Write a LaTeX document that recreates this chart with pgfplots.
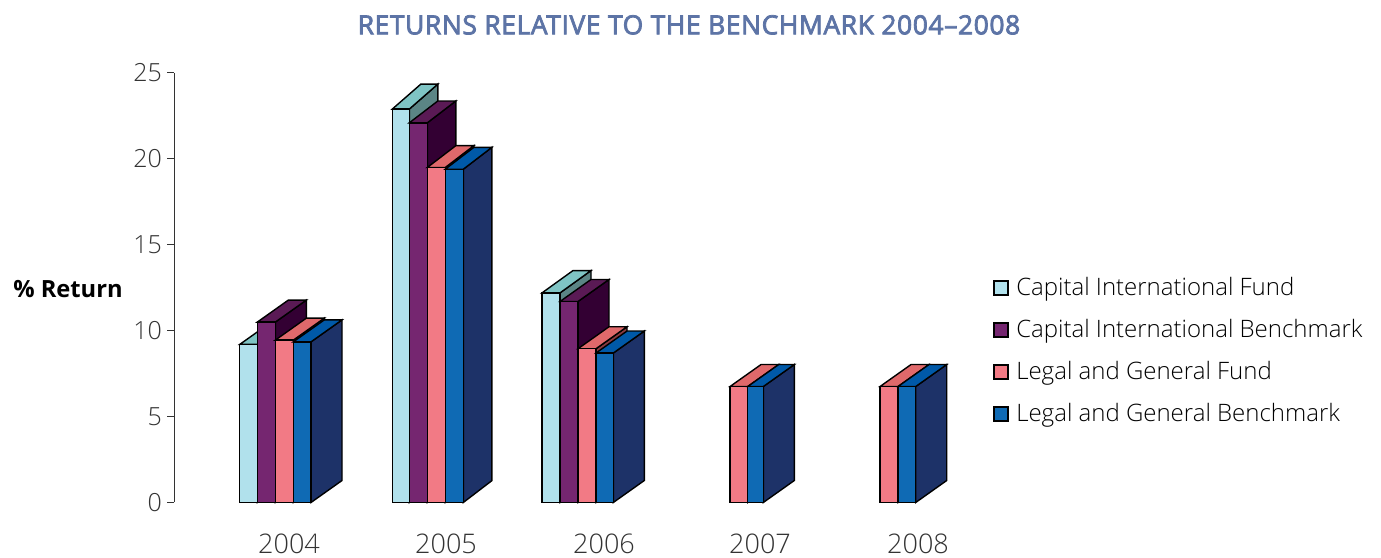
\documentclass[border=0pt]{standalone}
\usepackage{fontspec}
\setmainfont{Open Sans Light}[BoldFont={Open Sans Bold}]
\newfontfamily\titlefont{Open Sans}[FakeBold=3,LetterSpace=2.3]
\usepackage{pgfplots}
\pgfplotsset{compat=1.18}

% fronts, tops and sides of the four series
\definecolor{cifront}{HTML}{B1E1EC}
\definecolor{citop}{HTML}{7FC4C4}
\definecolor{ciside}{HTML}{5B8585}
\definecolor{cbfront}{HTML}{752670}
\definecolor{cbtop}{HTML}{5A1A55}
\definecolor{cbside}{HTML}{330033}
\definecolor{lgfront}{HTML}{F27A85}
\definecolor{lgtop}{HTML}{E0696B}
\definecolor{lgside}{HTML}{8A3A40}
\definecolor{lbfront}{HTML}{0F6AB4}
\definecolor{lbtop}{HTML}{0059A8}
\definecolor{lbside}{HTML}{1D3268}
\definecolor{titleblue}{HTML}{5D74A6}
\definecolor{inktext}{HTML}{333333}

% series, left edge, right edge, value, depth x, depth y
\newcommand{\boxbar}[6]{%
  \pgfmathsetmacro\bx{#3+#5}%
  \pgfmathsetmacro\lx{#2+#5}%
  \pgfmathsetmacro\by{#4+#6}%
  \addplot[forget plot, draw=black, line width=0.7pt, line join=miter, fill=#1side] coordinates {(#3,0)(\bx,#6)(\bx,\by)(#3,#4)} --cycle;
  \addplot[forget plot, draw=black, line width=0.7pt, line join=miter, fill=#1top] coordinates {(#2,#4)(\lx,\by)(\bx,\by)(#3,#4)} --cycle;
  \addplot[forget plot, draw=black, line width=0.7pt, line join=miter, fill=#1front] coordinates {(#2,0)(#2,#4)(#3,#4)(#3,0)} --cycle;
}

\begin{document}
\begin{tikzpicture}[x=1pt,y=1pt]
\path[use as bounding box] (0,0) rectangle (690.5,278.5);
\begin{axis}[
  at={(87pt,27.25pt)}, anchor=south west,
  scale only axis, width=400pt, height=214.75pt,
  xmin=174, xmax=974, ymin=0, ymax=25,
  clip=false,
  axis x line=bottom, axis y line=left,
  x axis line style={draw=none},
  y axis line style={-, draw=inktext, line width=0.5pt},
  tick align=outside,
  major tick length=3.5pt,
  xtick={289,446,604,760,918},
  xticklabels={2004,2005,2006,2007,2008},
  x tick style={draw=none},
  y tick style={draw=inktext, line width=0.5pt},
  ytick={0,5,10,15,20,25},
  /pgf/number format/assume math mode=true,
  tick label style={font=\fontsize{13.5pt}{15pt}\selectfont, text=inktext},
  xticklabel style={yshift=-8.5pt},
  yticklabel style={font=\fontsize{12.5pt}{15pt}\selectfont, xshift=1pt},
  ylabel={\textbf{\% Return}},
  every axis y label/.style={at={(axis cs:68,12.4)}, anchor=center, font=\fontsize{11.85pt}{15pt}\selectfont, text=black},
  title={RETURNS RELATIVE TO THE BENCHMARK 2004–2008},
  every axis title/.style={at={(axis cs:689,27.8)}, anchor=center, font=\titlefont\fontsize{13.2pt}{15pt}\selectfont, text=titleblue},
  legend style={at={(1.0238,0.534)}, anchor=north west, draw=none, fill=none,
    font=\fontsize{12pt}{15pt}\selectfont, text=black, row sep=6.4pt,
    legend cell align=left, inner sep=0pt},
  legend image code/.code={\draw[#1, draw=black, line width=0.8pt] (0pt,-3.5pt) rectangle (7pt,3.5pt); \path[draw=none,fill=none] (0pt,0pt) -- (9pt,0pt);},
]
% 2004
\boxbar{ci}{239.7}{257.3}{9.2}{31}{1.28}
\boxbar{cb}{257.3}{275.3}{10.5}{31}{1.28}
\boxbar{lg}{275.3}{293.3}{9.45}{31}{1.28}
\boxbar{lb}{293.3}{311}{9.35}{31}{1.28}
% 2005
\boxbar{ci}{392.3}{409.3}{22.9}{28.5}{1.45}
\boxbar{cb}{409.3}{427.3}{22.1}{28.5}{1.27}
\boxbar{lg}{427.3}{445.3}{19.5}{28.5}{1.27}
\boxbar{lb}{445.3}{463.3}{19.4}{28.5}{1.27}
% 2006
\boxbar{ci}{542}{560}{12.2}{31}{1.3}
\boxbar{cb}{560}{578}{11.7}{31}{1.28}
\boxbar{lg}{578}{596}{8.95}{31}{1.28}
\boxbar{lb}{596}{613.3}{8.7}{31}{1.28}
% 2007
\boxbar{lg}{730}{747.7}{6.75}{31}{1.28}
\boxbar{lb}{747.7}{763.3}{6.75}{31}{1.28}
% 2008
\boxbar{lg}{880}{898}{6.75}{31}{1.28}
\boxbar{lb}{898}{915.7}{6.75}{31}{1.28}
\addlegendimage{fill=cifront}
\addlegendentry{Capital International Fund}
\addlegendimage{fill=cbfront}
\addlegendentry{Capital International Benchmark}
\addlegendimage{fill=lgfront}
\addlegendentry{Legal and General Fund}
\addlegendimage{fill=lbfront}
\addlegendentry{Legal and General Benchmark}
\end{axis}
\end{tikzpicture}
\end{document}
